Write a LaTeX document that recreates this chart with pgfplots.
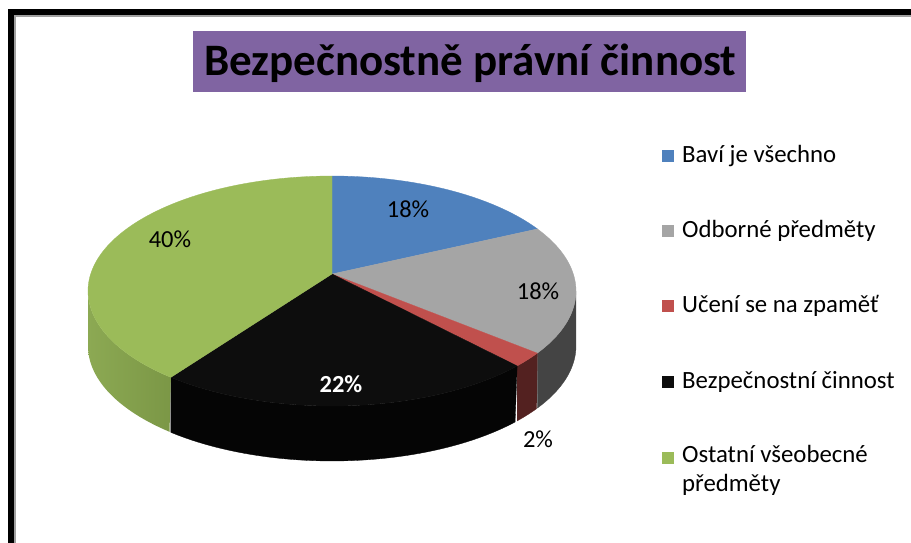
\documentclass[border=0pt]{standalone}
\usepackage{fontspec}
\setmainfont{Carlito}
\usepackage{pgfplots}
\usepackage{pgfplotstable}
\pgfplotsset{compat=1.18}

\definecolor{cblue}{HTML}{4F81BD}
\definecolor{cgray}{HTML}{A5A5A5}
\definecolor{cred}{HTML}{C0504D}
\definecolor{cblack}{HTML}{0D0D0D}
\definecolor{cgreen}{HTML}{9BBB59}
\definecolor{sgray}{HTML}{444444}
\definecolor{sred}{HTML}{532120}
\definecolor{sblack}{HTML}{050505}
\definecolor{sgreenA}{HTML}{8CA953}
\definecolor{sgreenB}{HTML}{7B9746}
\definecolor{tpurple}{HTML}{8064A2}
\definecolor{inner}{HTML}{A0A0A0}

% shares (percent), clockwise from 12 o'clock
\pgfplotstableread{
value
18
18
2
22
40
}\piedata

\pgfplotstablegetelem{0}{value}\of\piedata \let\vA\pgfplotsretval
\pgfplotstablegetelem{1}{value}\of\piedata \let\vB\pgfplotsretval
\pgfplotstablegetelem{2}{value}\of\piedata \let\vC\pgfplotsretval
\pgfplotstablegetelem{3}{value}\of\piedata \let\vD\pgfplotsretval
\pgfplotstablegetelem{4}{value}\of\piedata \let\vE\pgfplotsretval

\pgfmathsetmacro{\aA}{90}
\pgfmathsetmacro{\aB}{\aA-3.6*\vA}
\pgfmathsetmacro{\aC}{\aB-3.6*\vB}
\pgfmathsetmacro{\aD}{\aC-3.6*\vC}
\pgfmathsetmacro{\aE}{\aD-3.6*\vD}
\pgfmathsetmacro{\aF}{\aE-3.6*\vE}

% visible front wall range
\def\flo{-171.5}
\def\fhi{-8.5}
\pgfmathsetmacro{\loB}{max(\aC,\flo)}\pgfmathsetmacro{\hiB}{min(\aB,\fhi)}
\pgfmathsetmacro{\loC}{max(\aD,\flo)}\pgfmathsetmacro{\hiC}{min(\aC,\fhi)}
\pgfmathsetmacro{\loD}{max(\aE,\flo)}\pgfmathsetmacro{\hiD}{min(\aD,\fhi)}
\pgfmathsetmacro{\loE}{max(\aF,\flo)}\pgfmathsetmacro{\hiE}{min(\aE,\fhi)}

\begin{document}
\begin{tikzpicture}
\begin{axis}[
  width=911pt, height=543pt, scale only axis,
  xmin=0, xmax=911, ymin=0, ymax=543, y dir=reverse,
  hide axis, clip=false,
  declare function={
    pu(\t)=cos(\t)*(1-0.0744^2)/(1+0.0744^2+2*0.0744*sin(\t));
    pv(\t)=(2*0.0744+sin(\t)*(1+0.0744^2))/(1+0.0744^2+2*0.0744*sin(\t));
    PX(\t)=332+244*pu(\t);
    PY(\t)=291-115*pv(\t);
  },
]
% background and frame
\fill[white] (axis cs:0,0) rectangle (axis cs:911,543);
\fill[black] (axis cs:8,9) rectangle (axis cs:911,15);
\fill[black] (axis cs:8,9) rectangle (axis cs:14,543);
\fill[inner] (axis cs:14,15) rectangle (axis cs:911,17);
\fill[inner] (axis cs:14,15) rectangle (axis cs:16,543);

% side walls
\addplot[draw=sgray, fill=sgray, line width=0.3pt, domain=0:2, samples=241, variable=\u]
  ({PX(ifthenelse(\u<=1, \loB+(\hiB-\loB)*\u, \hiB-(\hiB-\loB)*(\u-1)))},
   {PY(ifthenelse(\u<=1, \loB+(\hiB-\loB)*\u, \hiB-(\hiB-\loB)*(\u-1)))+(\u>1)*55}) -- cycle;
\addplot[draw=sred, fill=sred, line width=0.3pt, domain=0:2, samples=61, variable=\u]
  ({PX(ifthenelse(\u<=1, \loC+(\hiC-\loC)*\u, \hiC-(\hiC-\loC)*(\u-1)))},
   {PY(ifthenelse(\u<=1, \loC+(\hiC-\loC)*\u, \hiC-(\hiC-\loC)*(\u-1)))+(\u>1)*55}) -- cycle;
\addplot[draw=sblack, fill=sblack, line width=0.3pt, domain=0:2, samples=241, variable=\u]
  ({PX(ifthenelse(\u<=1, \loD+(\hiD-\loD)*\u, \hiD-(\hiD-\loD)*(\u-1)))},
   {PY(ifthenelse(\u<=1, \loD+(\hiD-\loD)*\u, \hiD-(\hiD-\loD)*(\u-1)))+(\u>1)*55}) -- cycle;
\addplot[draw=none, left color=sgreenA, right color=sgreenB, domain=0:2, samples=241, variable=\u]
  ({PX(ifthenelse(\u<=1, \loE+(\hiE-\loE)*\u, \hiE-(\hiE-\loE)*(\u-1)))},
   {PY(ifthenelse(\u<=1, \loE+(\hiE-\loE)*\u, \hiE-(\hiE-\loE)*(\u-1)))+(\u>1)*55}) -- cycle;

% top faces
\addplot[draw=cblue, fill=cblue, line width=0.3pt, domain=\aB:\aA, samples=80, variable=\t]
  ({PX(\t)},{PY(\t)}) -- (axis cs:332,274) -- cycle;
\addplot[draw=cgray, fill=cgray, line width=0.3pt, domain=\aC:\aB, samples=80, variable=\t]
  ({PX(\t)},{PY(\t)}) -- (axis cs:332,274) -- cycle;
\addplot[draw=cred, fill=cred, line width=0.3pt, domain=\aD:\aC, samples=20, variable=\t]
  ({PX(\t)},{PY(\t)}) -- (axis cs:332,274) -- cycle;
\addplot[draw=cblack, fill=cblack, line width=0.3pt, domain=\aE:\aD, samples=80, variable=\t]
  ({PX(\t)},{PY(\t)}) -- (axis cs:332,274) -- cycle;
\addplot[draw=cgreen, fill=cgreen, line width=0.3pt, domain=\aF:\aE, samples=120, variable=\t]
  ({PX(\t)},{PY(\t)}) -- (axis cs:332,274) -- cycle;

% data labels
\begin{scope}[every node/.style={font=\fontsize{24.5}{28}\selectfont, inner sep=0pt}]
\node at (axis cs:408,209) {18\%};
\node at (axis cs:538,291) {18\%};
\node at (axis cs:538,439) {2\%};
\node[text=white, font=\fontsize{24.5}{28}\selectfont\bfseries] at (axis cs:341,384) {22\%};
\node at (axis cs:170,239) {40\%};
\end{scope}

% title
\fill[tpurple] (axis cs:193,31) rectangle (axis cs:746,92);
\node[anchor=base west, inner sep=0pt, font=\fontsize{45}{50}\selectfont\bfseries] at (axis cs:204,76) {Bezpečnostně právní činnost};

% legend
\begin{scope}[every node/.style={font=\fontsize{24.8}{29}\selectfont, inner sep=0pt, anchor=west, align=left}]
\fill[cblue]  (axis cs:662,150) rectangle (axis cs:674,162);
\node at (axis cs:682,156) {Baví je všechno};
\fill[cgray]  (axis cs:662,225) rectangle (axis cs:674,237);
\node at (axis cs:682,231) {Odborné předměty};
\fill[cred]   (axis cs:662,300) rectangle (axis cs:674,312);
\node at (axis cs:682,306) {Učení se na zpaměť};
\fill[cblack] (axis cs:662,376) rectangle (axis cs:674,388);
\node at (axis cs:682,382) {Bezpečnostní činnost};
\fill[cgreen] (axis cs:662,452) rectangle (axis cs:674,464);
\node[anchor=north west] at (axis cs:682,445) {Ostatní všeobecné\\předměty};
\end{scope}
\end{axis}
\end{tikzpicture}
\end{document}
